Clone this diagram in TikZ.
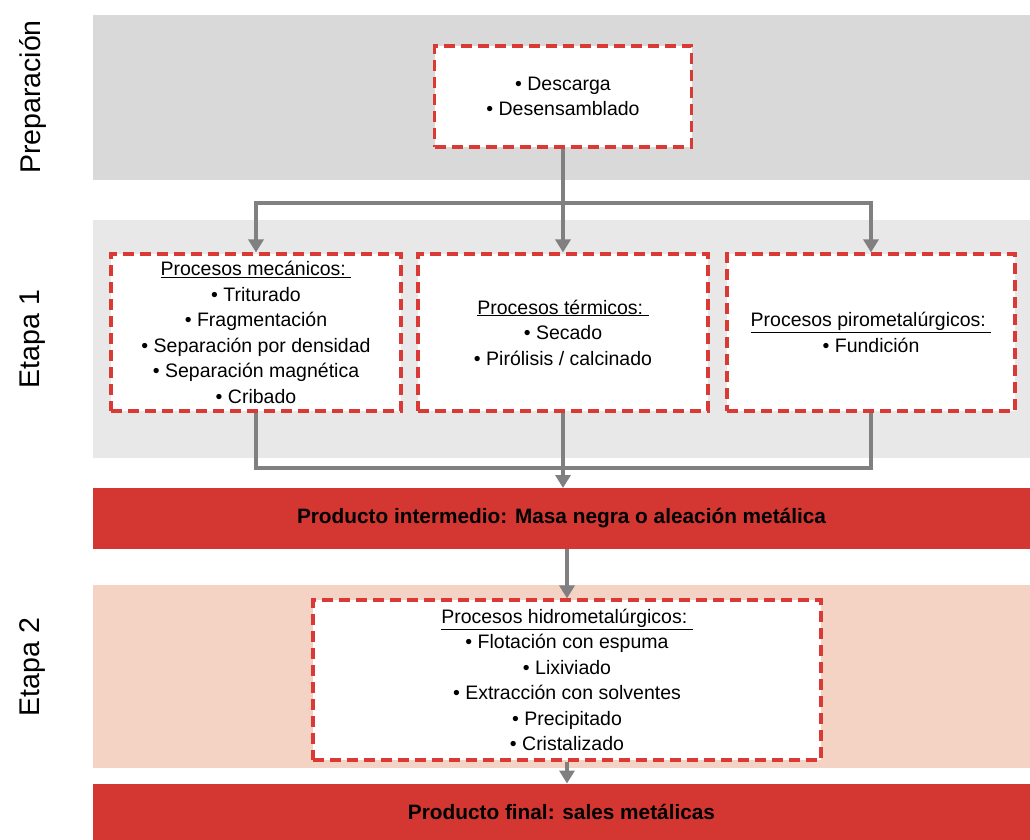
\documentclass[tikz,border=0pt]{standalone}
\usepackage{fontspec}
\setmainfont{Liberation Sans}
\usetikzlibrary{arrows.meta}
\definecolor{prepgray}{HTML}{D9D9D9}
\definecolor{e1gray}{HTML}{E8E8E8}
\definecolor{e2peach}{HTML}{F5D3C4}
\definecolor{prodred}{HTML}{D43731}
\definecolor{dashred}{HTML}{D93A35}
\definecolor{conngray}{HTML}{808080}
\tikzset{
  band/.style={rectangle, inner sep=0pt, outer sep=0pt},
  dbox/.style={rectangle, draw=dashred, fill=white, line width=3.2pt,
    dash pattern=on 11pt off 6pt, align=center, inner sep=0pt,
    font=\fontsize{19.5}{25.5}\selectfont},
  prodtext/.style={font=\fontsize{20.8}{24}\selectfont\bfseries},
  stagelbl/.style={rotate=90, font=\fontsize{28.5}{32}\selectfont},
  conn/.style={draw=conngray, line width=4pt},
  arr/.style={conn, -{Triangle[width=15pt,length=13pt]}},
}
\begin{document}
\begin{tikzpicture}[x=1pt,y=-1pt]
\useasboundingbox (0,0) rectangle (1030,839);
% bands
\node[band, fill=prepgray, minimum width=937pt, minimum height=165pt] (prepband) at (561.5,97.5) {};
\node[band, fill=e1gray, minimum width=937pt, minimum height=238pt] (e1band) at (561.5,339) {};
\node[band, fill=prodred, minimum width=937pt, minimum height=61pt, prodtext] (inter) at (561.5,518.5) {Producto intermedio: Masa negra o aleación metálica};
\node[band, fill=e2peach, minimum width=937pt, minimum height=183pt] (e2band) at (561.5,676.5) {};
\node[band, fill=prodred, minimum width=937pt, minimum height=56pt, prodtext] (final) at (561.5,811.5) {Producto final: sales metálicas};
% stage labels
\node[stagelbl] (lprep) at (33,97) {Preparación};
\node[stagelbl] (le1) at (33,339) {Etapa 1};
\node[stagelbl] (le2) at (33,667) {Etapa 2};
% boxes
\node[dbox, minimum width=257pt, minimum height=101pt] (prep) at (563,96.5)
  {• Descarga\\• Desensamblado};
\node[dbox, minimum width=290pt, minimum height=157pt] (mech) at (256,332.5)
  {\underline{Procesos mecánicos:\ }\\• Triturado\\• Fragmentación\\• Separación por densidad\\• Separación magnética\\• Cribado};
\node[dbox, minimum width=290pt, minimum height=157pt] (therm) at (563,332.5)
  {\underline{Procesos térmicos:\ }\\• Secado\\• Pirólisis / calcinado};
\node[dbox, minimum width=288pt, minimum height=157pt] (pyro) at (871,332.5)
  {\underline{Procesos pirometalúrgicos:\ }\\• Fundición};
\node[dbox, minimum width=508pt, minimum height=160pt] (hydro) at (567,680)
  {\underline{Procesos hidrometalúrgicos:\ }\\• Flotación con espuma\\• Lixiviado\\• Extracción con solventes\\• Precipitado\\• Cristalizado};
% connectors
\coordinate (j1) at (563,203);
\coordinate (j2) at (563,468);
\draw[conn] (prep.south) -- (j1);
\draw[arr] (j1) -| (mech.north);
\draw[arr] (j1) -- (therm.north);
\draw[arr] (j1) -| (pyro.north);
\draw[conn] (mech.south) |- (j2);
\draw[conn] (pyro.south) |- (j2);
\draw[arr] (therm.south) -- (therm.south |- inter.north);
\draw[arr] (inter.south -| hydro.north) -- (hydro.north);
\draw[arr] (hydro.south) -- (hydro.south |- final.north);
\end{tikzpicture}
\end{document}
